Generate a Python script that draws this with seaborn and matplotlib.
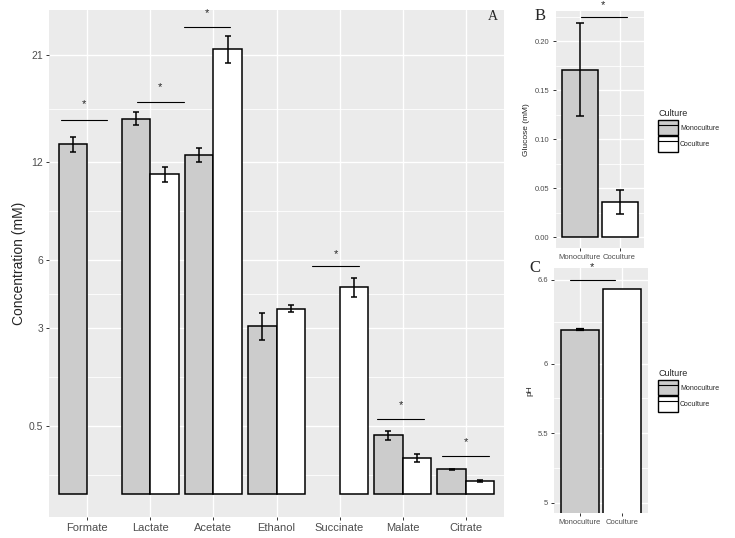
import numpy as np
import pandas as pd
import seaborn as sns
import matplotlib.pyplot as plt
from matplotlib.patches import Patch
from matplotlib.lines import Line2D
from matplotlib.ticker import FixedLocator

# Panel A data (mM)
metabolites = ['Formate', 'Lactate', 'Acetate', 'Ethanol', 'Succinate', 'Malate', 'Citrate']
mono_conc = [13.36, 15.39, 12.54, 3.08, np.nan, 0.381, 0.066]
mono_err = [0.57, 0.56, 0.52, 0.48, np.nan, 0.057, 0.003]
co_conc = [np.nan, 11.17, 21.6, 3.75, 4.66, 0.143, 0.018]
co_err = [np.nan, 0.51, 1.34, 0.15, 0.42, 0.033, 0.002]
conc_breaks = [0.5, 3, 6, 12, 21]

# significance bars in panel A
sig_cats = ['Formate', 'Lactate', 'Acetate', 'Succinate', 'Malate', 'Citrate']
sig_shift = [-0.05, 0.16, -0.10, -0.06, -0.03, 0.0]
sig_y = [15.25, 16.79, 23.77, 5.68, 0.616, 0.154]
star_y = [16.6, 18.07, 25.2, 6.29, 0.86, 0.298]

# Panel B / C data
cultures = ['Monoculture', 'Coculture']
glucose = [0.1711, 0.0359]
glucose_err = [0.0477, 0.0122]
ph = [6.243, 6.537]
ph_err = [0.004, 0.0]
glucose_breaks = [0.00, 0.05, 0.10, 0.15, 0.20]
ph_breaks = [5, 5.5, 6, 6.6]

colors = {'Monoculture': '#CCCCCC', 'Coculture': 'white'}

sns.set_style('darkgrid', {'axes.facecolor': '#EBEBEB', 'grid.color': 'white'})
plt.rcParams['font.family'] = ['Liberation Sans', 'DejaVu Sans']

dfA = pd.DataFrame({
    'metabolite': metabolites * 2,
    'culture': ['Monoculture'] * 7 + ['Coculture'] * 7,
    'conc': mono_conc + co_conc,
    'err': mono_err + co_err,
}).dropna()

fig = plt.figure(figsize=(7.35, 5.38), dpi=100)
W, H = 735, 538
axA = fig.add_axes([49.4 / W, 1 - 516.7 / H, 454.2 / W, 506.7 / H])
axB = fig.add_axes([555.5 / W, 1 - 248 / H, 88 / W, 237 / H])
axC = fig.add_axes([554.3 / W, 1 - 513 / H, 93.4 / W, 244.7 / H])


def fwd(v):
    return np.sign(v) * np.sqrt(np.abs(v))


def inv(v):
    return np.sign(v) * v ** 2


# ---- Panel A
sns.barplot(data=dfA, x='metabolite', y='conc', hue='culture', order=metabolites,
            hue_order=cultures, palette=colors, saturation=1, width=0.9,
            edgecolor='black', linewidth=1.1, legend=False, ax=axA)
for cont, cult in zip(axA.containers, cultures):
    sub = dfA[dfA['culture'] == cult].copy()
    sub['pos'] = sub['metabolite'].map({c: i for i, c in enumerate(metabolites)})
    sub = sub.sort_values('pos')
    for bar, (_, row) in zip(cont, sub.iterrows()):
        axA.errorbar(bar.get_x() + bar.get_width() / 2, row['conc'], yerr=row['err'],
                     fmt='none', ecolor='black', elinewidth=1.1, capsize=2.4,
                     capthick=1.1, zorder=4)
axA.set_yscale('function', functions=(fwd, inv))
axA.set_xlim(-0.6, 6.6)
axA.set_ylim(inv(-0.237), inv(5.057))
axA.set_yticks(conc_breaks, labels=[str(b) for b in conc_breaks])
t = np.sqrt(conc_breaks)
ext = np.concatenate([[t[0] - (t[1] - t[0])], t, [t[-1] + (t[-1] - t[-2])]])
axA.yaxis.set_minor_locator(FixedLocator(inv((ext[:-1] + ext[1:]) / 2)))
axA.set_xlabel('')
axA.set_ylabel('Concentration (mM)', fontsize=10, labelpad=2)
axA.tick_params(axis='y', labelsize=7.5)
axA.tick_params(axis='x', labelsize=8)

for cat, sh, y, sy in zip(sig_cats, sig_shift, sig_y, star_y):
    c = metabolites.index(cat) + sh
    axA.plot([c - 0.37, c + 0.37], [y, y], color='black', linewidth=0.8)
    axA.text(c, sy, '*', ha='center', va='center', fontsize=8, clip_on=False)

# ---- Panel B
dfB = pd.DataFrame({'culture': cultures, 'glucose': glucose, 'err': glucose_err})
sns.barplot(data=dfB, x='culture', y='glucose', hue='culture', order=cultures,
            hue_order=cultures, palette=colors, saturation=1, width=0.9,
            edgecolor='black', linewidth=1.1, legend=False, ax=axB)
for bar, g, e in zip([c[0] for c in axB.containers], glucose, glucose_err):
    axB.errorbar(bar.get_x() + bar.get_width() / 2, g, yerr=e, fmt='none', ecolor='black',
                 elinewidth=1.1, capsize=2.6, capthick=1.1, zorder=4)
axB.set_xlim(-0.6, 1.6)
axB.set_ylim(-0.011, 0.231)
axB.set_yticks(glucose_breaks, labels=['%.2f' % b for b in glucose_breaks])
axB.yaxis.set_minor_locator(FixedLocator([0.025, 0.075, 0.125, 0.175, 0.225]))
axB.set_xlabel('')
axB.set_ylabel('Glucose (mM)', fontsize=6, labelpad=3)
axB.plot([0.025, 1.175], [0.2244, 0.2244], color='black', linewidth=0.8)
axB.text(0.575, 0.2371, '*', ha='center', va='center', fontsize=8, clip_on=False)

# ---- Panel C
dfC = pd.DataFrame({'culture': cultures, 'ph': ph, 'err': ph_err})
sns.barplot(data=dfC, x='culture', y='ph', hue='culture', order=cultures,
            hue_order=cultures, palette=colors, saturation=1, width=0.9,
            edgecolor='black', linewidth=1.1, legend=False, ax=axC)
for bar, p, e in zip([c[0] for c in axC.containers], ph, ph_err):
    if e > 0:
        axC.errorbar(bar.get_x() + bar.get_width() / 2, p, yerr=e, fmt='none', ecolor='black',
                     elinewidth=1.1, capsize=3.2, capthick=1.6, zorder=4)
axC.set_xlim(-0.6, 1.6)
axC.set_ylim(4.926, 6.684)
axC.set_yticks(ph_breaks, labels=['5', '5.5', '6', '6.6'])
axC.yaxis.set_minor_locator(FixedLocator([5.25, 5.75, 6.3]))
axC.set_xlabel('')
axC.set_ylabel('pH', fontsize=6, labelpad=3)
axC.plot([-0.23, 0.83], [6.6, 6.6], color='black', linewidth=0.8)
axC.text(0.29, 6.69, '*', ha='center', va='center', fontsize=8, clip_on=False)

for ax in (axB, axC):
    ax.tick_params(axis='both', labelsize=5.5)

for ax in (axA, axB, axC):
    ax.grid(which='major', color='white', linewidth=1.0)
    ax.grid(which='minor', axis='y', color='white', linewidth=0.6)
    ax.tick_params(which='major', bottom=True, left=True, length=2.5, width=0.7,
                   color='#333333', labelcolor='#4D4D4D', pad=2)
    ax.tick_params(which='minor', length=0)
    for s in ax.spines.values():
        s.set_visible(False)

# legends for B and C
handles = [(Patch(facecolor=colors[c], edgecolor='black', linewidth=1.0),
            Line2D([], [], color='black', linewidth=0.8)) for c in cultures]
for top in (106, 366):
    leg = fig.legend(handles, cultures, title='Culture', loc='upper left',
                     bbox_to_anchor=(655 / W, 1 - top / H), frameon=False,
                     fontsize=5, title_fontsize=6.5, handlelength=2.8, handleheight=3.0,
                     handletextpad=0.3, labelspacing=0.2, borderpad=0, alignment='left')

fig.text(493 / W, 1 - 16.5 / H, 'A', family='Liberation Serif', fontsize=10, ha='center', va='center')
fig.text(540 / W, 1 - 16 / H, 'B', family='Liberation Serif', fontsize=12, ha='center', va='center')
fig.text(535 / W, 1 - 268 / H, 'C', family='Liberation Serif', fontsize=12, ha='center', va='center')

fig.savefig('out.png', dpi=100, facecolor='white')
